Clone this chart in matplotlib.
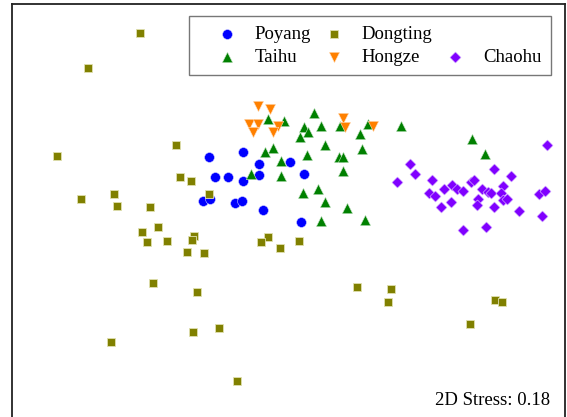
import matplotlib.pyplot as plt
from matplotlib.lines import Line2D

plt.rcParams['font.family'] = ['Liberation Serif', 'DejaVu Serif']

# NMDS scores per lake
poyang_x = [-0.91, -0.57, -0.41, -0.85, -0.72, -0.57, -0.41, -0.10, 0.04, -0.97,
            -0.90, -0.65, -0.58, -0.37, 0.01]
poyang_y = [0.73, 0.78, 0.66, 0.53, 0.53, 0.49, 0.55, 0.68, 0.56, 0.29,
            0.31, 0.27, 0.29, 0.20, 0.08]

dongting_x = [-1.60, -2.12, -1.24, -2.43, -1.20, -1.09, -1.86, -2.19, -1.83, -1.50,
              -0.91, -1.42, -1.58, -1.53, -1.33, -1.06, -1.08, -1.13, -0.96, -1.47,
              -1.03, -1.07, -1.89, -0.32, -0.39, -0.20, -0.01, 0.57, -0.81, -0.63,
              0.91, 0.88, 1.95, 2.02, 1.70]
dongting_y = [1.97, 1.62, 0.85, 0.74, 0.53, 0.49, 0.36, 0.31, 0.24, 0.23,
              0.36, 0.03, -0.02, -0.12, -0.11, -0.06, -0.10, -0.22, -0.23, -0.53,
              -0.62, -1.02, -1.12, -0.07, -0.12, -0.18, -0.11, -0.57, -0.98, -1.51,
              -0.59, -0.72, -0.70, -0.72, -0.94]

taihu_x = [-0.32, -0.16, 0.14, 0.04, 0.08, 0.00, 0.21, 0.40, 0.68, 1.01,
           0.60, 0.25, 0.62, -0.35, -0.27, -0.19, 0.07, 0.39, 0.43, 0.43,
           -0.49, -0.19, 0.03, 0.18, 0.25, 0.47, 0.21, 0.65, 1.72, 1.85]
taihu_y = [1.11, 1.09, 1.17, 1.03, 0.98, 0.93, 1.04, 1.04, 1.06, 1.04,
           0.96, 0.85, 0.81, 0.78, 0.82, 0.69, 0.75, 0.73, 0.73, 0.59,
           0.56, 0.54, 0.37, 0.41, 0.28, 0.22, 0.09, 0.10, 0.91, 0.76]

hongze_x = [-0.42, -0.30, -0.51, -0.42, -0.47, -0.22, -0.27, 0.43, 0.45, 0.73]
hongze_y = [1.24, 1.21, 1.06, 1.06, 0.98, 1.04, 0.98, 1.12, 1.03, 1.04]

chaohu_x = [2.47, 1.10, 1.15, 0.97, 1.94, 2.11, 1.32, 1.71, 1.74, 1.29,
            1.35, 1.44, 1.52, 1.57, 1.63, 1.82, 1.88, 1.91, 2.03, 2.01,
            1.78, 1.77, 2.03, 2.07, 1.51, 1.41, 1.94, 2.19, 2.42, 2.39,
            2.45, 1.63, 1.86]
chaohu_y = [0.85, 0.66, 0.56, 0.48, 0.61, 0.54, 0.50, 0.48, 0.50, 0.37,
            0.34, 0.41, 0.45, 0.41, 0.39, 0.41, 0.38, 0.37, 0.44, 0.37,
            0.31, 0.25, 0.30, 0.31, 0.28, 0.23, 0.23, 0.19, 0.14, 0.36,
            0.39, 0.00, 0.03]

stress = 0.18

fig = plt.figure(figsize=(5.67, 4.17), dpi=100)
ax = fig.add_axes([0.021, -0.01, 0.9755, 1.0])

h_poy = ax.scatter(poyang_x, poyang_y, marker='o', s=50, color='#0000ff',
                   edgecolors='#c8c8ff', linewidths=0.4, label='Poyang', zorder=3)
h_tai = ax.scatter(taihu_x, taihu_y, marker='^', s=56, color='#008000',
                   edgecolors='#c8e6c8', linewidths=0.4, label='Taihu', zorder=3)
h_don = ax.scatter(dongting_x, dongting_y, marker='s', s=34, color='#808000',
                   edgecolors='#e0e0b0', linewidths=0.6, label='Dongting', zorder=3)
h_hon = ax.scatter(hongze_x, hongze_y, marker='v', s=56, color='#ff8000',
                   edgecolors='#ffe0c0', linewidths=0.4, label='Hongze', zorder=3)
h_cha = ax.scatter(chaohu_x, chaohu_y, marker='D', s=32, color='#8000ff',
                   edgecolors='#e0c8ff', linewidths=0.4, label='Chaohu', zorder=3)

ax.set_xlim(-2.88, 2.65)
ax.set_ylim(-1.91, 2.26)
ax.set_xticks([])
ax.set_yticks([])
for sp in ax.spines.values():
    sp.set_linewidth(1.3)
    sp.set_color('#222222')

# empty slot so Chaohu sits in the second row of the third column
blank = Line2D([], [], linestyle='none')
handles = [h_poy, h_tai, h_don, h_hon, blank, h_cha]
labels = ['Poyang', 'Taihu', 'Dongting', 'Hongze', '', 'Chaohu']

leg = ax.legend(handles, labels, ncol=3, loc='upper right',
                bbox_to_anchor=(0.9747, 0.971), borderaxespad=0, fancybox=False,
                fontsize=13.5, handletextpad=0.0, columnspacing=-0.3,
                labelspacing=0.3, borderpad=0.5, handlelength=3.0)
leg.get_frame().set_edgecolor('#555555')
leg.get_frame().set_linewidth(1.0)

ax.text(0.973, 0.038, f'2D Stress: {stress:.2f}', transform=ax.transAxes,
        ha='right', va='baseline', fontsize=13.5)

fig.savefig('out.png', dpi=100)
